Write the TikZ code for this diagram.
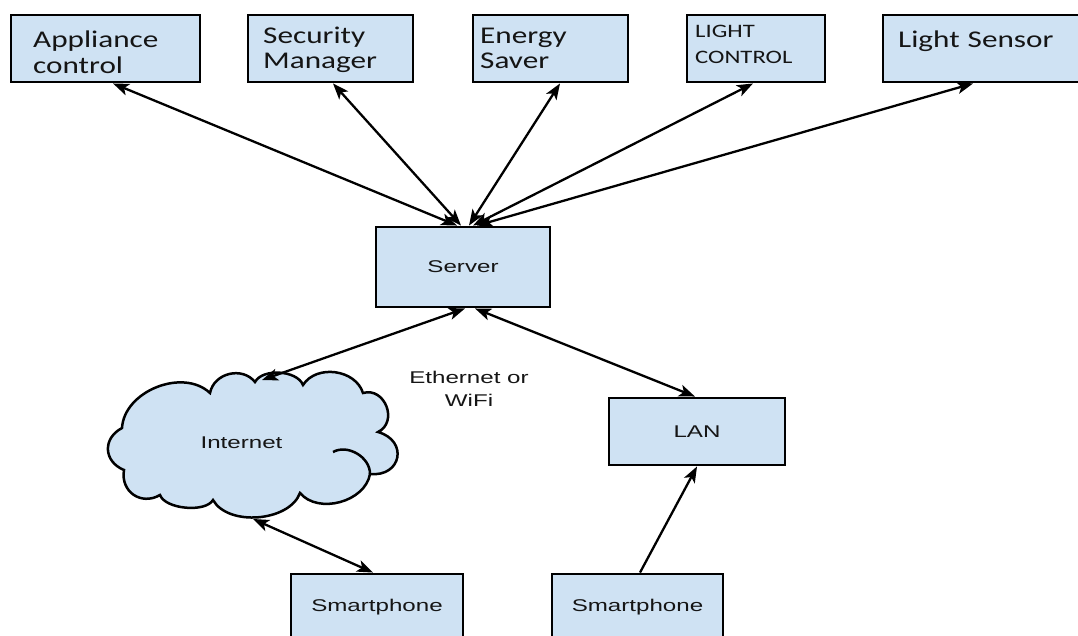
\documentclass[tikz,border=0pt]{standalone}
\usepackage{fontspec}
\usetikzlibrary{arrows.meta}
\newfontfamily\calfont[FakeStretch=1.3]{Carlito}
\newfontfamily\arifont[FakeStretch=1.42]{Liberation Sans}
\definecolor{boxfill}{HTML}{CFE2F3}
\definecolor{txt}{HTML}{151515}
\begin{document}
\begin{tikzpicture}[x=1pt,y=-1pt,
  box/.style={draw=black, line width=2.9pt, fill=boxfill, inner sep=0pt,
              text=txt, font=\arifont\fontsize{17}{20}\selectfont},
  toptext/.style={anchor=base west, inner sep=0pt, align=left, text=txt,
              font=\calfont\fontsize{24}{26}\selectfont},
  arr/.style={line width=2.3pt, black, {Stealth[length=16pt,width=12pt,inset=4pt]}-{Stealth[length=16pt,width=12pt,inset=4pt]}},
  arrone/.style={line width=2.3pt, black, -{Stealth[length=16pt,width=12pt,inset=4pt]}},
  puff/.style={bend left=65, looseness=#1},
  bigpuff/.style={bend left=85, looseness=#1}
]
\useasboundingbox (0,0) rectangle (1078,635);

% top row boxes
\node[box, minimum width=189pt, minimum height=67pt] (app) at (105.5,48.5) {};
\node[box, minimum width=165pt, minimum height=67pt] (sec) at (330.5,48.5) {};
\node[box, minimum width=155pt, minimum height=67pt] (ene) at (550.5,48.5) {};
\node[box, minimum width=138pt, minimum height=67pt] (lc)  at (756,48.5) {};
\node[box, minimum width=199pt, minimum height=67pt] (ls)  at (982.5,48.5) {};

\node[toptext, text width=165pt] (appT) at (33,47) {Appliance\\control};
\node[toptext, text width=150pt, font=\calfont\fontsize{24}{25}\selectfont] (secT) at (263,43) {Security\\Manager};
\node[toptext, text width=145pt, font=\calfont\fontsize{24}{25}\selectfont] (eneT) at (480,43) {Energy\\Saver};
\node[toptext, text width=125pt, font=\calfont\fontsize{19}{26}\selectfont] (lcT) at (695,37) {LIGHT\\CONTROL};
\node[toptext, text width=175pt] (lsT) at (898,47) {Light Sensor};

% server and lower boxes
\node[box, minimum width=174pt, minimum height=80pt] (server) at (463,267) {Server};
\node[box, minimum width=176pt, minimum height=67pt] (lan) at (697,431.5) {LAN};
\node[box, minimum width=172pt, minimum height=67pt] (sp1) at (377,607.5) {Smartphone};
\node[box, minimum width=171pt, minimum height=67pt] (sp2) at (637.5,607.5) {Smartphone};

% cloud
\draw[line width=2.5pt, fill=boxfill]
  (122,428) to[puff=1.0] (210,393) to[puff=1.13] (255,382) to[puff=0.85] (303,385)
  to[puff=1.05] (363,393) to[bigpuff=1.4] (378,432) to[bigpuff=1.9] (370,474)
  to[puff=1.0] (300,493) to[puff=0.9] (213,500) to[puff=0.72] (160,495)
  to[puff=1.28] (124,470) to[puff=1.35] cycle;
\draw[line width=2.5pt] (333,452) to[bend left=60] (370,474);
\node[inner sep=0pt, text=txt, font=\arifont\fontsize{17}{20}\selectfont] (inet) at (241.5,443) {Internet};
\coordinate (cloudtop) at (262,380);
\coordinate (cloudbot) at (253,519);

% label
\node[inner sep=0pt, align=center, text=txt, font=\arifont\fontsize{17}{23}\selectfont] (eth) at (469,389) {Ethernet or\\WiFi};

% connectors
\draw[arr] ([xshift=-6pt]server.north) -- ([xshift=7.5pt]app.south);
\draw[arr] ([xshift=-2pt]server.north) -- ([xshift=2.5pt]sec.south);
\draw[arr] ([xshift=6pt]server.north) -- ([xshift=9.5pt]ene.south);
\draw[arr] ([xshift=10pt]server.north) -- ([xshift=-3pt]lc.south);
\draw[arr] ([xshift=14pt]server.north) -- ([xshift=-9.5pt]ls.south);

\draw[arr] ([xshift=2pt]server.south) -- (cloudtop);
\draw[arr] ([xshift=12pt]server.south) -- ([xshift=-2pt]lan.north);
\draw[arr] (cloudbot) -- ([xshift=-4pt]sp1.north);
\draw[arrone] ([xshift=2.5pt]sp2.north) -- (lan.south);
\end{tikzpicture}
\end{document}
